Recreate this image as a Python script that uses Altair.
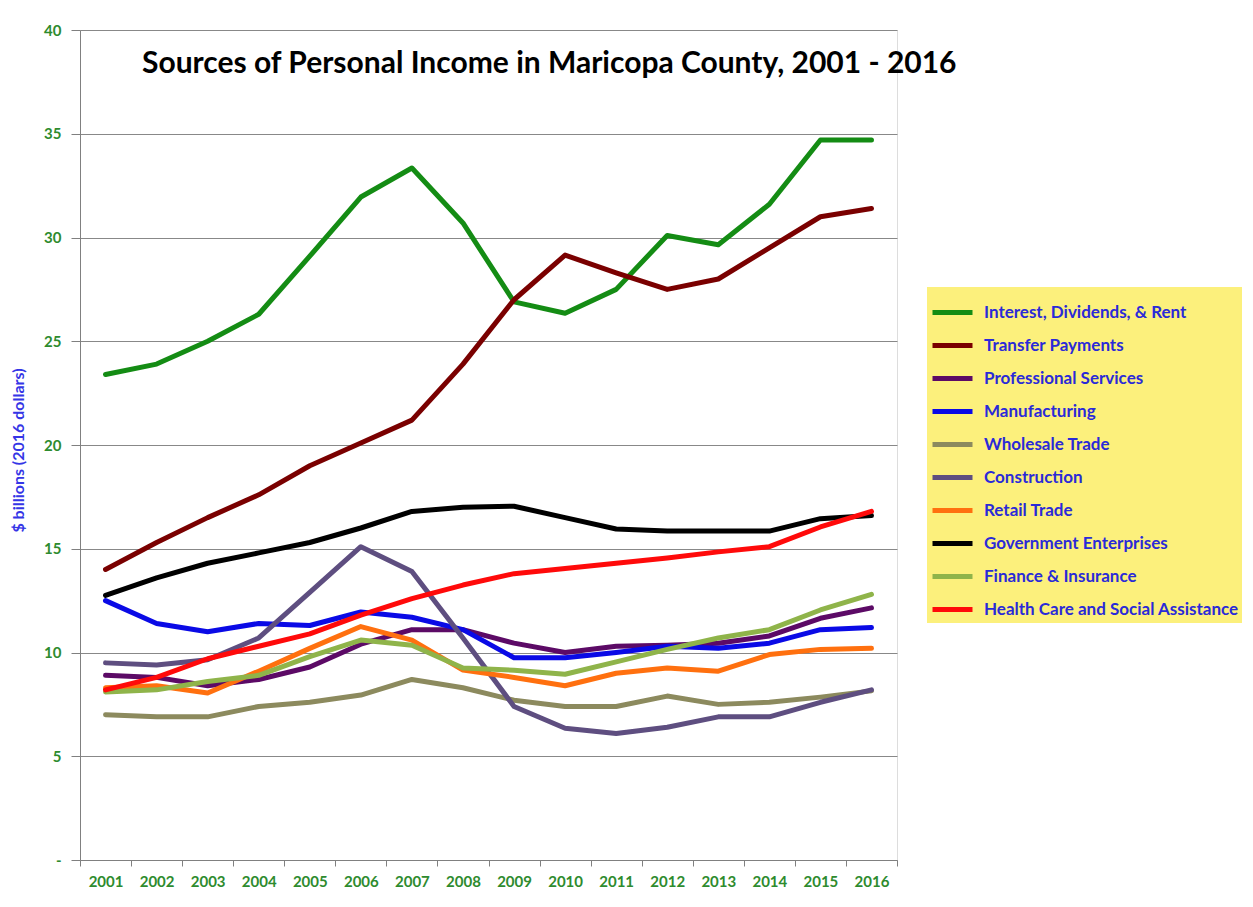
import altair as alt
import pandas as pd

years = [str(y) for y in range(2001, 2017)]

series_names = [
    "Interest, Dividends, & Rent",
    "Transfer Payments",
    "Professional Services",
    "Manufacturing",
    "Wholesale Trade",
    "Construction",
    "Retail Trade",
    "Government Enterprises",
    "Finance & Insurance",
    "Health Care and Social Assistance",
]
series_colors = [
    "#148c14", "#7a0000", "#5c0a66", "#0a0ae6", "#8c8a5e",
    "#5e4e80", "#ff700f", "#000000", "#8fb44a", "#ff0a0a",
]

interest = [23.4, 23.9, 25.0, 26.3, 29.1, 31.95, 33.35, 30.7, 26.9, 26.35, 27.5, 30.1, 29.65, 31.6, 34.7, 34.7]
transfer = [14.0, 15.3, 16.5, 17.6, 19.0, 20.1, 21.2, 23.9, 27.0, 29.15, 28.3, 27.5, 28.0, 29.5, 31.0, 31.4]
professional = [8.9, 8.8, 8.4, 8.7, 9.3, 10.4, 11.1, 11.1, 10.45, 10.0, 10.3, 10.35, 10.45, 10.8, 11.65, 12.15]
manufacturing = [12.5, 11.4, 11.0, 11.4, 11.3, 11.95, 11.7, 11.1, 9.75, 9.75, 10.0, 10.3, 10.2, 10.45, 11.1, 11.2]
wholesale = [7.0, 6.9, 6.9, 7.4, 7.6, 7.95, 8.7, 8.3, 7.7, 7.4, 7.4, 7.9, 7.5, 7.6, 7.85, 8.15]
construction = [9.5, 9.4, 9.65, 10.7, 12.9, 15.1, 13.9, 10.7, 7.4, 6.35, 6.1, 6.4, 6.9, 6.9, 7.6, 8.2]
retail = [8.3, 8.4, 8.05, 9.1, 10.2, 11.25, 10.6, 9.15, 8.8, 8.4, 9.0, 9.25, 9.1, 9.9, 10.15, 10.2]
government = [12.75, 13.6, 14.3, 14.8, 15.3, 16.0, 16.8, 17.0, 17.05, 16.5, 15.95, 15.85, 15.85, 15.85, 16.45, 16.6]
finance = [8.1, 8.2, 8.6, 8.9, 9.8, 10.6, 10.35, 9.25, 9.15, 8.95, 9.55, 10.15, 10.7, 11.1, 12.05, 12.8]
health = [8.2, 8.8, 9.7, 10.3, 10.9, 11.8, 12.6, 13.25, 13.8, 14.05, 14.3, 14.55, 14.85, 15.1, 16.05, 16.8]

all_values = [interest, transfer, professional, manufacturing, wholesale,
              construction, retail, government, finance, health]

rows = []
for order, (name, vals) in enumerate(zip(series_names, all_values)):
    for yr, v in zip(years, vals):
        rows.append({"Series": name, "Year": yr, "Value": v, "ord": order})
df = pd.DataFrame(rows)

title_text = "Sources of Personal Income in Maricopa County, 2001 - 2016"
FONT = "Lato"
GREEN = "#2e8b2e"
BLUE = "#2a2ad8"

chart = (
    alt.Chart(df)
    .mark_line(strokeWidth=5, strokeCap="round", strokeJoin="round")
    .encode(
        x=alt.X(
            "Year:O",
            scale=alt.Scale(type="band", paddingInner=0, paddingOuter=0),
            axis=alt.Axis(
                title=None, labelAngle=0, tickBand="extent", tickSize=6,
                tickColor="#808080", domainColor="#808080", labelColor=GREEN,
                labelFont=FONT, labelFontSize=15, labelFontWeight="bold",
                labelPadding=8, grid=False,
            ),
        ),
        y=alt.Y(
            "Value:Q",
            scale=alt.Scale(domain=[0, 40], nice=False),
            axis=alt.Axis(
                title="$ billions (2016 dollars)",
                values=list(range(0, 45, 5)),
                labelExpr="datum.value == 0 ? '-' : datum.label",
                tickSize=9, tickColor="#808080", domainColor="#808080",
                gridColor="#888888", gridWidth=1, labelColor=GREEN,
                labelFont=FONT, labelFontSize=15, labelFontWeight="bold",
                labelPadding=10, titleColor="#3535e6", titleFont=FONT,
                titleFontSize=16, titleFontWeight="bold", titleX=-62,
                titleY=420, titleAngle=-90, titleAlign="center",
                titleBaseline="middle",
            ),
        ),
        color=alt.Color(
            "Series:N",
            scale=alt.Scale(domain=series_names, range=series_colors),
            legend=alt.Legend(
                title=None, orient="none", legendX=847, legendY=257,
                fillColor="#fcf07c", padding=3, symbolType="stroke",
                symbolSize=1600, symbolStrokeWidth=5, rowPadding=0,
                labelFont=FONT, labelFontSize=17, labelFontWeight="bold",
                labelColor=BLUE, labelOffset=9, labelLimit=400,
            ),
        ),
        order=alt.Order("ord:Q"),
    )
    .properties(
        width=817,
        height=830,
        title=alt.TitleParams(
            title_text, anchor="start", frame="group", dx=62, dy=71,
            offset=0, font=FONT, fontSize=30, fontWeight="bold",
            color="black", baseline="middle",
        ),
        autosize=alt.AutoSizeParams(type="none"),
        padding={"left": 72, "top": 22, "right": 346, "bottom": 40},
    )
    .configure_view(fill="#d9d9d9", stroke=None)
    .configure(background="white")
)

chart.save("out.html", embed_options={"renderer": "svg", "actions": False})
